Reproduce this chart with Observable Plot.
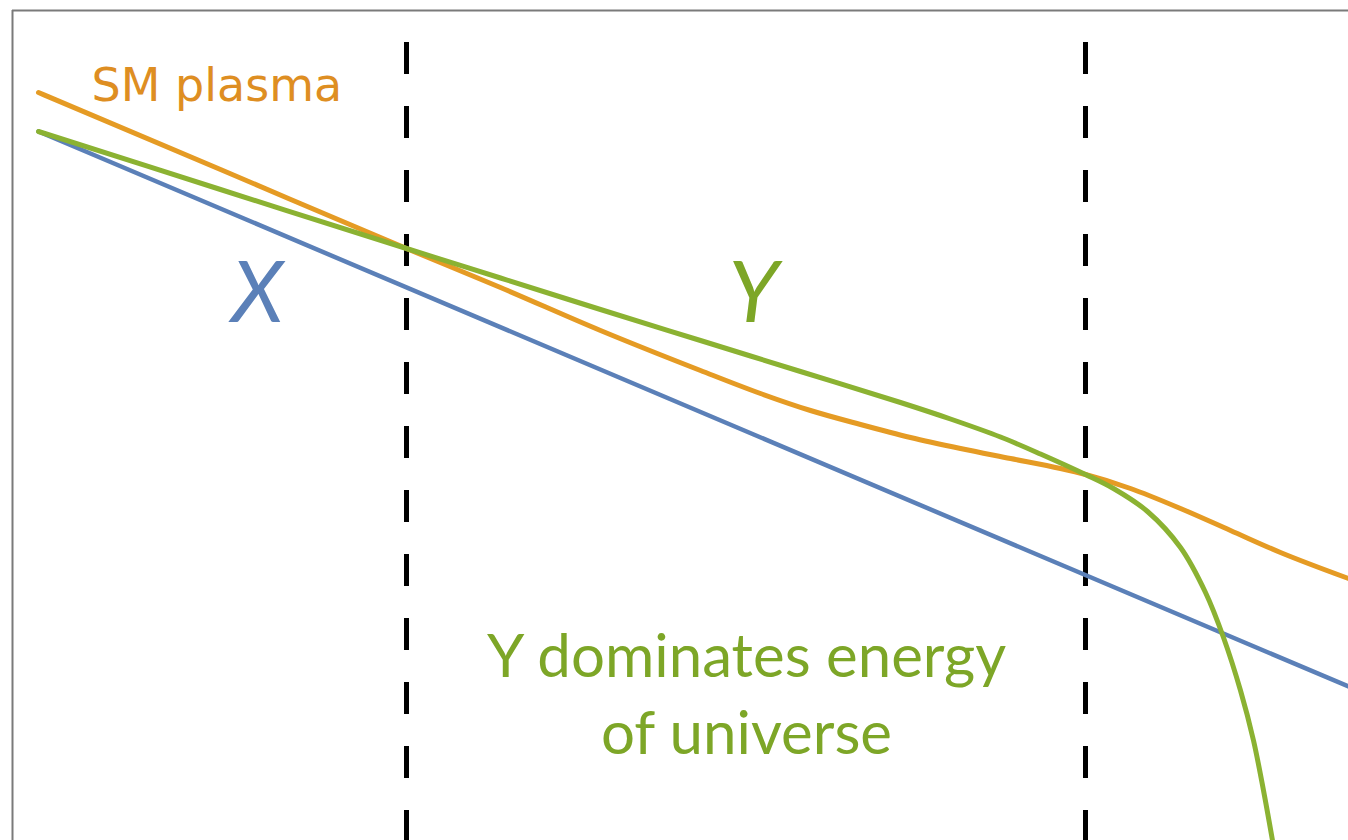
<!DOCTYPE html>
<html>
<head>
<meta charset="utf-8">
<script src="https://cdn.jsdelivr.net/npm/d3@7"></script>
<script src="https://cdn.jsdelivr.net/npm/@observablehq/plot@0.6"></script>
<style>
  html, body { margin: 0; padding: 0; background: #fff; }
  #chart svg { display: block; }
</style>
</head>
<body>
<div id="chart"></div>
<script>
// Energy density (log) versus time (log), arbitrary units.
// Species X: falls off as a straight power law.
const xTime = [0.26, 13.36];
const xDensity = [7.09, 1.54];

// SM plasma
const smTime = [0.26, 2.08, 3.94, 4.88, 5.88, 6.88, 7.48, 7.98, 8.48, 8.98, 9.48, 9.98, 10.48, 10.73, 11.18, 11.68, 12.18, 12.68, 13.36];
const smDensity = [7.48, 6.71, 5.92, 5.53, 5.10, 4.70, 4.47, 4.30, 4.16, 4.03, 3.92, 3.82, 3.72, 3.66, 3.52, 3.32, 3.10, 2.88, 2.62];

// Species Y: dominates between the two transitions, then decays away
const yTime = [0.26, 2.08, 3.94, 4.88, 5.88, 6.88, 7.88, 8.88, 9.38, 9.88, 10.28, 10.73, 11.01, 11.35, 11.68, 11.93, 12.11, 12.28, 12.41, 12.51, 12.60];
const yDensity = [7.09, 6.51, 5.92, 5.625, 5.31, 5.00, 4.69, 4.38, 4.215, 4.035, 3.865, 3.66, 3.52, 3.29, 2.93, 2.48, 2.03, 1.50, 1.00, 0.50, 0.00];

// Transition times (dashed markers)
const transitions = [3.94, 10.73];

const toRows = (ts, vs) => ts.map((t, i) => ({t, v: vs[i]}));

const colors = {
  x: "#5b80b8",
  sm: "#e59b24",
  smText: "#de8e22",
  y: "#8bb232",
  yText: "#7da627",
  frame: "#7a7a7a"
};

const xMax = 13.36, yMax = 8.3;

const chart = Plot.plot({
  width: 1348,
  height: 840,
  marginLeft: 12,
  marginTop: 10,
  marginRight: 0,
  marginBottom: 0,
  x: {domain: [0, xMax], axis: null},
  y: {domain: [0, yMax], axis: null},
  marks: [
    // left and top edges of the panel
    Plot.ruleX([0], {stroke: colors.frame, strokeWidth: 2}),
    Plot.ruleY([yMax], {stroke: colors.frame, strokeWidth: 2}),
    // transition markers
    Plot.ruleX(transitions, {
      x: d => d, y1: yMax, y2: 0,
      stroke: "#000", strokeWidth: 5,
      strokeDasharray: "32,32", strokeDashoffset: 32
    }),
    Plot.line(toRows(xTime, xDensity), {x: "t", y: "v", stroke: colors.x, strokeWidth: 4.5}),
    Plot.line(toRows(smTime, smDensity), {x: "t", y: "v", stroke: colors.sm, strokeWidth: 5, curve: "monotone-x"}),
    Plot.line(toRows(yTime, yDensity), {x: "t", y: "v", stroke: colors.y, strokeWidth: 5, curve: "catmull-rom", clip: true}),
    // annotations
    Plot.text(["SM plasma"], {
      x: 0.79, y: 7.40, text: d => d, textAnchor: "start", lineAnchor: "bottom",
      fill: colors.smText, fontSize: 46, fontFamily: "DejaVu Sans"
    }),
    Plot.text(["X"], {
      x: 2.45, y: 5.19, text: d => d, textAnchor: "middle", lineAnchor: "bottom",
      fill: colors.x, fontSize: 86, fontFamily: "Lato", fontStyle: "italic"
    }),
    Plot.text(["Y"], {
      x: 7.41, y: 5.19, text: d => d, textAnchor: "middle", lineAnchor: "bottom",
      fill: colors.yText, fontSize: 86, fontFamily: "Lato", fontStyle: "italic"
    }),
    Plot.text(["Y dominates energy\nof universe"], {
      x: 7.34, y: 0.87, text: d => d, textAnchor: "middle", lineAnchor: "bottom",
      fill: colors.yText, fontSize: 60, fontFamily: "Lato", lineHeight: 1.28
    })
  ]
});

document.getElementById("chart").appendChild(chart);
</script>
</body>
</html>
